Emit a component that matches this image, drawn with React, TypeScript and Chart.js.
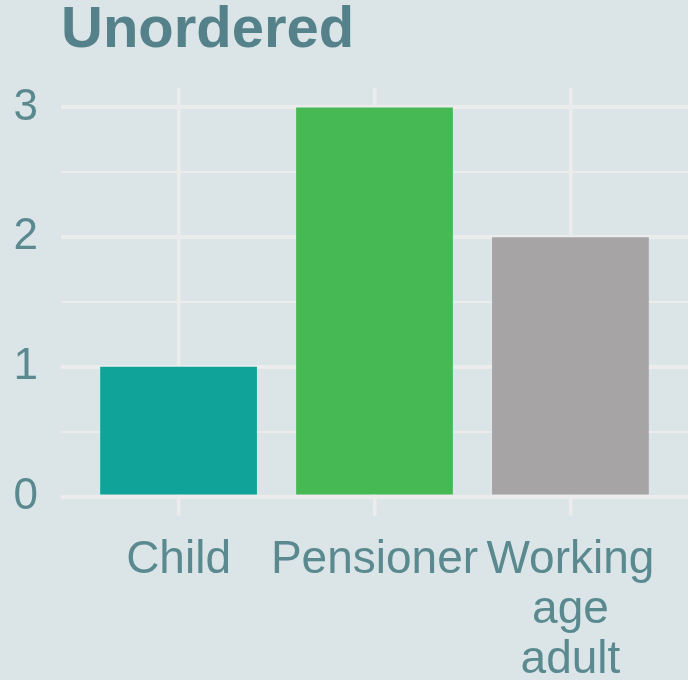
import React, { useEffect, useRef } from "react";
import { Chart, registerables } from "chart.js";

Chart.register(...registerables);

const title = "Unordered";
const categories: (string | string[])[] = ["Child", "Pensioner", ["Working", "age", "adult"]];
const values = [1, 3, 2];
const barColors = ["#10a39a", "#46b955", "#a6a4a5"];
const yTickValues = [0, 0.5, 1, 1.5, 2, 2.5, 3];

const BG = "#dbe5e7";
const TEXT = "#5a8a90";
const GRID = "#ececec";
const FONT = "'Liberation Sans', Arial, sans-serif";

export default function App() {
  const ref = useRef<HTMLCanvasElement | null>(null);

  useEffect(() => {
    if (!ref.current) return;
    const chart = new Chart(ref.current, {
      type: "bar",
      data: {
        datasets: [
          {
            data: values.map((v, i) => ({ x: i + 1, y: v })),
            backgroundColor: barColors,
            borderWidth: 0,
            categoryPercentage: 0.8,
            barPercentage: 1,
          },
        ],
      },
      options: {
        animation: false,
        responsive: true,
        maintainAspectRatio: false,
        layout: { padding: 0 },
        plugins: {
          legend: { display: false },
          tooltip: { enabled: false },
          title: {
            display: true,
            text: title,
            align: "start",
            fullSize: false,
            color: "#55828a",
            font: { family: FONT, size: 58, weight: "bold", lineHeight: 1.0 },
            padding: { top: 2, bottom: 28 },
          },
        },
        scales: {
          x: {
            type: "linear",
            min: 0.4,
            max: 3.6,
            offset: false,
            border: { display: false },
            grid: { color: GRID, lineWidth: 3.5, drawTicks: false, offset: false },
            afterBuildTicks: (s: any) => {
              s.ticks = categories.map((_, i) => ({ value: i + 1 }));
            },
            afterFit: (s: any) => {
              s.height = 164;
            },
            ticks: {
              color: TEXT,
              padding: 19,
              maxRotation: 0,
              autoSkip: false,
              font: { family: FONT, size: 46, lineHeight: 1.09 },
              callback: (v: any) => categories[Math.round(Number(v)) - 1] as any,
            },
          },
          y: {
            type: "linear",
            min: -0.15,
            max: 3.15,
            border: { display: false },
            grid: {
              color: GRID,
              drawTicks: false,
              lineWidth: (ctx: any) => (ctx.tick && ctx.tick.value % 1 === 0 ? 4 : 2),
            },
            afterBuildTicks: (s: any) => {
              s.ticks = yTickValues.map((v) => ({ value: v }));
            },
            afterFit: (s: any) => {
              s.width = 61;
            },
            ticks: {
              color: TEXT,
              padding: 23,
              autoSkip: false,
              font: { family: FONT, size: 44 },
              callback: (v: any) => (Number(v) % 1 === 0 ? String(v) : ""),
            },
          },
        },
      },
    } as any);
    return () => chart.destroy();
  }, []);

  return (
    <div style={{ position: "fixed", left: 0, top: 0, width: 688, height: 680, background: BG }}>
      <canvas ref={ref} />
    </div>
  );
}
